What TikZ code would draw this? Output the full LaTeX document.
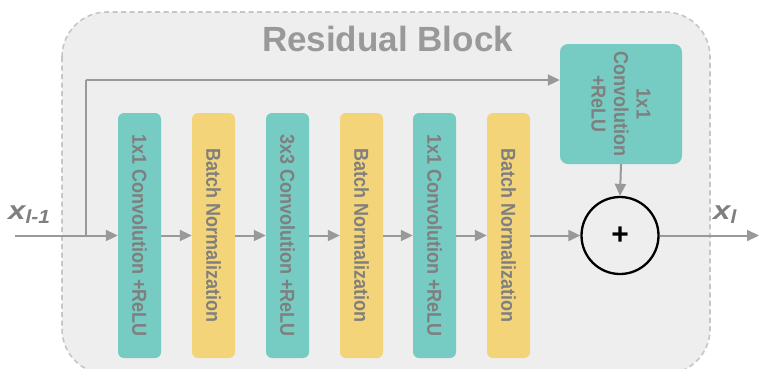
\documentclass[tikz,border=0pt]{standalone}
\usepackage{fontspec}
\setmainfont{Liberation Sans}
\usetikzlibrary{arrows.meta}
\definecolor{tealc}{HTML}{76CBC2}
\definecolor{yelc}{HTML}{F3D478}
\definecolor{bgc}{HTML}{EEEEEE}
\definecolor{brdc}{HTML}{C6C6C6}
\definecolor{arrc}{HTML}{999999}
\definecolor{txtc}{HTML}{7F7F7F}
\newcommand{\thick}[1]{\scalebox{1}[1.12]{#1}}
\begin{document}
\begin{tikzpicture}[x=1pt,y=-1pt,
  convbox/.style={fill=tealc, draw=none, rounded corners=6pt, minimum width=43pt, minimum height=245pt, inner sep=0pt},
  bnbox/.style={fill=yelc, draw=none, rounded corners=6pt, minimum width=43pt, minimum height=245pt, inner sep=0pt},
  lbl/.style={rotate=-90, text=txtc, inner sep=0pt, font=\bfseries\fontsize{18}{22.5}\selectfont},
  link/.style={draw=arrc, line width=2pt, -{Triangle[length=12pt,width=11pt]}},
  plain/.style={draw=arrc, line width=2pt},
  mathlbl/.style={text=txtc, inner sep=0pt, font=\bfseries\itshape\fontsize{26}{28}\selectfont},
]
\useasboundingbox (0,0) rectangle (759,368);
\begin{scope}
  \clip (0,0) rectangle (759,368);
  \draw[fill=bgc, draw=brdc, line width=1.6pt, dash pattern=on 5pt off 3.5pt, rounded corners=45pt] (62,12) rectangle (710,374);
\end{scope}
\node[text=arrc, inner sep=0pt, anchor=base, font=\bfseries\fontsize{35}{36}\selectfont] (title) at (387.5,51) {Residual Block};

% main boxes
\node[convbox] (c1) at (139.5,235.5) {};
\node[lbl] (t1) at (c1) {\thick{1x1 Convolution +ReLU}};
\node[bnbox] (b1) at (213.5,235.5) {};
\node[lbl] (t2) at (b1) {\thick{Batch Normalization}};
\node[convbox] (c2) at (287.5,235.5) {};
\node[lbl] (t3) at (c2) {\thick{3x3 Convolution +ReLU}};
\node[bnbox] (b2) at (361.5,235.5) {};
\node[lbl] (t4) at (b2) {\thick{Batch Normalization}};
\node[convbox] (c3) at (434.5,235.5) {};
\node[lbl] (t5) at (c3) {\thick{1x1 Convolution +ReLU}};
\node[bnbox] (b3) at (508.5,235.5) {};
\node[lbl] (t6) at (b3) {\thick{Batch Normalization}};

% shortcut conv
\node[fill=tealc, draw=none, rounded corners=8pt, minimum width=122pt, minimum height=120pt, inner sep=0pt] (top) at (621,104) {};
\node[lbl, align=center] (tt) at (top) {\thick{1x1}\\\thick{Convolution}\\\thick{+ReLU}};

% sum
\node[circle, draw=black, line width=2.3pt, fill=bgc, minimum size=77pt, inner sep=0pt, font=\bfseries\fontsize{30}{30}\selectfont] (plus) at (620,235.5) {\raisebox{-3pt}{+}};

% labels
\node[mathlbl, anchor=base west] (xin) at (8,219) {\scalebox{1.2}[1]{x}\raisebox{-4pt}{\fontsize{19}{20}\selectfont\scalebox{1.1}[1]{l-1}}};
\node[mathlbl, anchor=base west] (xout) at (713,219) {\scalebox{1.2}[1]{x}\raisebox{-4pt}{\fontsize{19}{20}\selectfont\scalebox{1.1}[1]{l}}};

% connectors
\coordinate (in) at (15,235.5);
\coordinate (split) at (86,235.5);
\coordinate (bend) at (86,80);
\coordinate (out) at (759,235.5);
\draw[link] (in) -- (c1.west);
\draw[plain] (split) -- (bend);
\draw[link] (bend) -- (bend -| top.west);
\draw[link] (c1.east) -- (b1.west);
\draw[link] (b1.east) -- (c2.west);
\draw[link] (c2.east) -- (b2.west);
\draw[link] (b2.east) -- (c3.west);
\draw[link] (c3.east) -- (b3.west);
\draw[link] (b3.east) -- (plus.west);
\draw[link] (top.south) -- (plus.north);
\draw[link] (plus.east) -- (out);
\end{tikzpicture}
\end{document}
